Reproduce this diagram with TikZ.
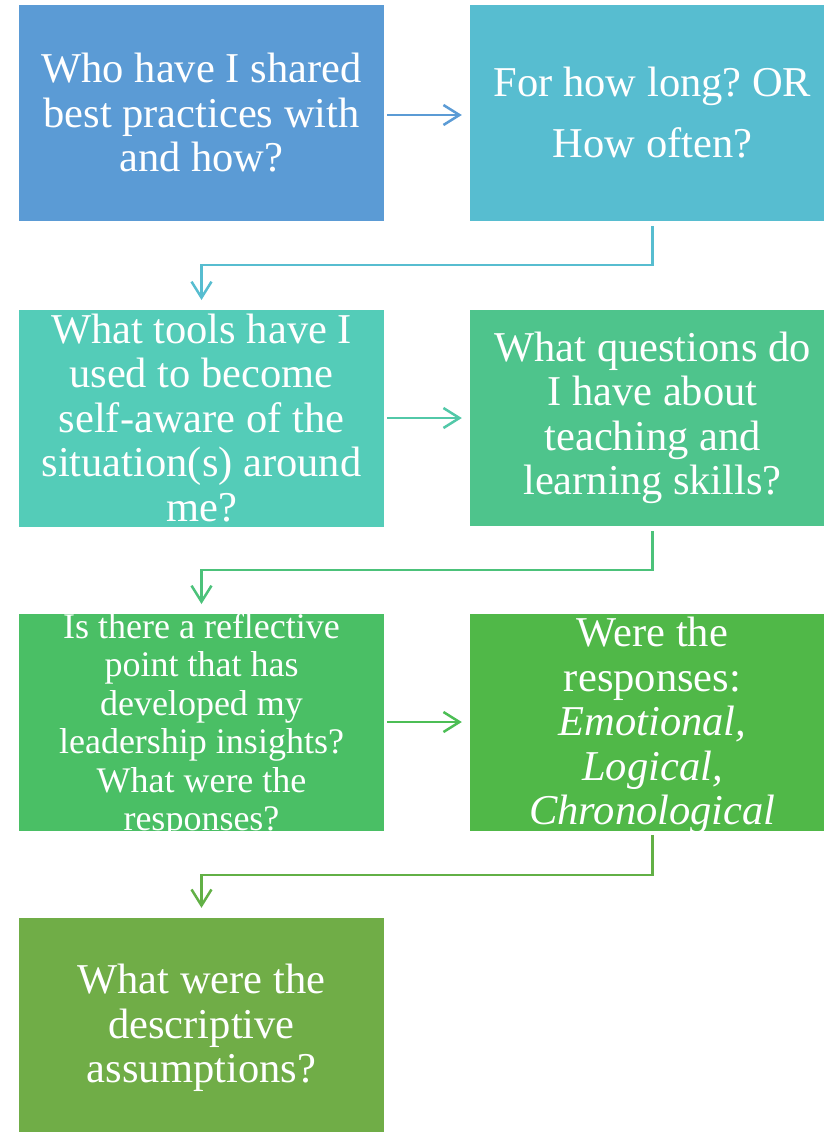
\documentclass[tikz,border=0pt]{standalone}
\usepackage{fontspec}
\setmainfont{Liberation Serif}
\usetikzlibrary{arrows.meta,calc}
\definecolor{c1}{HTML}{5B9BD5}
\definecolor{c2}{HTML}{57BDD0}
\definecolor{c3}{HTML}{54CCB8}
\definecolor{c4}{HTML}{4EC48C}
\definecolor{c5}{HTML}{4ABF65}
\definecolor{c6}{HTML}{50B848}
\definecolor{c7}{HTML}{70AD47}
\definecolor{a3}{HTML}{52C8A8}
\definecolor{a4}{HTML}{4CC27A}
\definecolor{a5}{HTML}{4CBE55}
\definecolor{a6}{HTML}{62B046}
\frenchspacing
\tikzset{
  boxL/.style={minimum width=365pt, minimum height=216pt, inner sep=0pt, align=center, text=white, font=\fontsize{42.5}{44.5}\selectfont},
  boxR/.style={boxL},
  conn/.style={line width=2.5pt, -{Straight Barb[length=16pt,width=20pt,line width=2.5pt]}},
}
\begin{document}
\begin{tikzpicture}[x=1pt,y=-1pt]
\useasboundingbox (0,0) rectangle (823,1132);
\node[boxL, fill=c1] (b1) at (201.5,113) {Who have I shared\\best practices with\\and how?};
\node[boxR, fill=c2, font=\fontsize{42.5}{61}\selectfont] (b2) at (652.5,113) {For how long? OR\\How often?};
\begin{scope}
\clip (19,310) rectangle (384,526);
\node[boxL, fill=c3, minimum height=240pt] (b3) at (201.5,418) {What tools have I\\used to become\\self-aware of the\\situation(s) around\\me?};
\end{scope}
\node[boxR, fill=c4] (b4) at (652.5,418) {What questions do\\I have about\\teaching and\\learning skills?};
\begin{scope}
\clip (19,614) rectangle (384,830);
\node[boxL, fill=c5, minimum height=240pt, font=\fontsize{36}{38.5}\selectfont] (b5) at (201.5,725.5) {Is there a reflective\\point that has\\developed my\\leadership insights?\\What were the\\responses?};
\end{scope}
\begin{scope}
\clip (470,614) rectangle (835,830);
\node[boxR, fill=c6, minimum height=240pt] (b6) at (652.5,725.5) {Were the\\responses:\\\textit{Emotional,}\\\textit{Logical,}\\\textit{Chronological}};
\end{scope}
\node[boxL, fill=c7, minimum height=220pt] (b7) at (201.5,1028) {What were the\\descriptive\\assumptions?};
\coordinate (m2) at (201.5,265);
\coordinate (m4) at (201.5,570);
\coordinate (m6) at (201.5,875);
\draw[conn, c1] ([xshift=3pt,yshift=-2pt]b1.east) -- ([xshift=-8pt,yshift=-2pt]b2.west);
\draw[conn, c2] ([yshift=-5pt]b2.south) |- (m2) -- ([yshift=118pt]b3.center);
\draw[conn, a3] ([xshift=3pt]b3.east) -- ([xshift=-8pt]b4.west);
\draw[conn, a4] ([yshift=-5pt]b4.south) |- (m4) -- ([yshift=121.5pt]b5.center);
\draw[conn, a5] ([xshift=3pt,yshift=3.5pt]b5.east) -- ([xshift=-8pt,yshift=3.5pt]b6.west);
\draw[conn, a6] ([yshift=-109.5pt]b6.center) |- (m6) -- ([yshift=10pt]b7.north);
\end{tikzpicture}
\end{document}
